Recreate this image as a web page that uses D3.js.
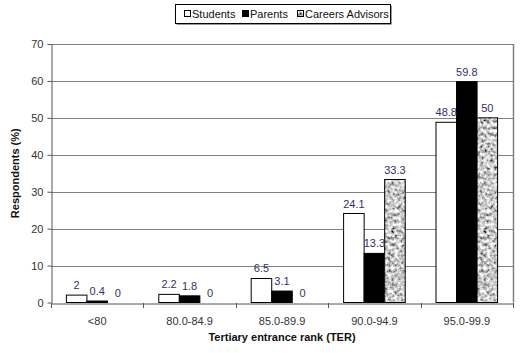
<!DOCTYPE html>
<html>
<head>
<meta charset="utf-8">
<script src="https://cdn.jsdelivr.net/npm/d3@7"></script>
<style>
  body { margin: 0; background: #fff; }
  svg { font-family: Arial, "Liberation Sans", sans-serif; }
</style>
</head>
<body>
<div id="chart"></div>
<script>
// ------- Data
const categories = ['<80', '80.0-84.9', '85.0-89.9', '90.0-94.9', '95.0-99.9'];
const seriesNames = ['Students', 'Parents', 'Careers Advisors'];
const students = [2, 2.2, 6.5, 24.1, 48.8];
const parents = [0.4, 1.8, 3.1, 13.3, 59.8];
const advisors = [0, 0, 0, 33.3, 50];
const yTicks = [0, 10, 20, 30, 40, 50, 60, 70];

const width = 520, height = 353;
const margin = { top: 44, right: 7, bottom: 51, left: 51 };

const svg = d3.select('#chart').append('svg')
  .attr('width', width).attr('height', height);

// mottled grey texture for the advisors bars
const defs = svg.append('defs');
const f = defs.append('filter').attr('id', 'noise')
  .attr('x', 0).attr('y', 0).attr('width', 1).attr('height', 1);
f.append('feTurbulence').attr('type', 'fractalNoise')
  .attr('baseFrequency', 0.3).attr('numOctaves', 2).attr('seed', 7).attr('result', 't');
f.append('feColorMatrix').attr('in', 't').attr('type', 'matrix')
  .attr('values', '1.9 0 0 0 -0.36  1.9 0 0 0 -0.36  1.9 0 0 0 -0.36  0 0 0 0 1')
  .attr('result', 'g');
f.append('feComposite').attr('in', 'g').attr('in2', 'SourceGraphic').attr('operator', 'in');

const x = d3.scaleBand().domain(categories)
  .range([margin.left, width - margin.right]).paddingInner(0).paddingOuter(0);
const x1 = d3.scaleBand().domain(seriesNames)
  .range([0, x.bandwidth()]).paddingOuter(0.75).paddingInner(0);
const y = d3.scaleLinear().domain([0, 70]).range([height - margin.bottom + 0.5, margin.top]);

// ------- Gridlines + plot border
svg.append('g').selectAll('line').data(yTicks.slice(1)).join('line')
  .attr('x1', margin.left).attr('x2', width - margin.right)
  .attr('y1', d => Math.round(y(d)) + 0.5).attr('y2', d => Math.round(y(d)) + 0.5)
  .attr('stroke', '#808080').attr('stroke-width', 1);
svg.append('line')
  .attr('x1', width - margin.right + 0.5).attr('x2', width - margin.right + 0.5)
  .attr('y1', y(70)).attr('y2', y(0))
  .attr('stroke', '#808080').attr('stroke-width', 1.5);

// ------- Y axis
const yAxis = svg.append('g')
  .attr('transform', `translate(${margin.left + 0.5},0)`)
  .call(d3.axisLeft(y).tickValues(yTicks).tickSize(4).tickPadding(4).tickSizeOuter(0));
yAxis.select('.domain').attr('stroke', '#555');
yAxis.selectAll('.tick line').attr('stroke', '#555');
yAxis.selectAll('.tick text').attr('font-size', 11).attr('fill', '#333');

// ------- Bars
const fills = { 'Students': '#fff', 'Parents': '#000', 'Careers Advisors': '#aaa' };
const rows = categories.map((c, i) => ({ c, vals: [students[i], parents[i], advisors[i]] }));

const groups = svg.append('g').selectAll('g').data(rows).join('g')
  .attr('transform', d => `translate(${x(d.c)},0)`);

groups.selectAll('rect').data(d => d.vals.map((v, k) => ({ s: seriesNames[k], v })))
  .join('rect')
  .attr('x', d => x1(d.s))
  .attr('y', d => y(d.v))
  .attr('width', x1.bandwidth())
  .attr('height', d => y(0) - y(d.v))
  .attr('fill', d => fills[d.s])
  .attr('filter', d => d.s === 'Careers Advisors' ? 'url(#noise)' : null)
  .attr('stroke', '#000').attr('stroke-width', 1);

// outline over the textured bars
groups.selectAll('rect.ol').data(d => d.vals.map((v, k) => ({ s: seriesNames[k], v })).filter(e => e.s === 'Careers Advisors' && e.v > 0))
  .join('rect').attr('class', 'ol')
  .attr('x', d => x1(d.s)).attr('y', d => y(d.v))
  .attr('width', x1.bandwidth()).attr('height', d => y(0) - y(d.v))
  .attr('fill', 'none').attr('stroke', '#000').attr('stroke-width', 1);

groups.selectAll('text').data(d => d.vals.map((v, k) => ({ s: seriesNames[k], v })))
  .join('text')
  .attr('x', d => x1(d.s) + x1.bandwidth() / 2)
  .attr('y', d => y(d.v) - 6)
  .attr('text-anchor', 'middle')
  .attr('font-size', 11)
  .attr('fill', '#33306b')
  .text(d => d.v);

// ------- X axis
const xAxis = svg.append('g')
  .attr('transform', `translate(0,${Math.round(y(0)) + 0.5})`)
  .call(d3.axisBottom(x).tickSize(0).tickPadding(14));
xAxis.select('.domain').attr('stroke', '#555');
xAxis.selectAll('.tick text').attr('font-size', 11).attr('fill', '#333');
svg.append('g').selectAll('line').data(d3.range(categories.length + 1)).join('line')
  .attr('x1', i => Math.round(margin.left + i * x.bandwidth()) + 0.5)
  .attr('x2', i => Math.round(margin.left + i * x.bandwidth()) + 0.5)
  .attr('y1', Math.round(y(0))).attr('y2', Math.round(y(0)) + 5)
  .attr('stroke', '#555');

// ------- Axis titles
svg.append('text')
  .attr('x', (margin.left + width - margin.right) / 2).attr('y', 341)
  .attr('text-anchor', 'middle').attr('font-size', 11).attr('font-weight', 700)
  .attr('fill', '#111').text('Tertiary entrance rank (TER)');
svg.append('text')
  .attr('transform', `translate(19,${(y(0) + y(70)) / 2}) rotate(-90)`)
  .attr('text-anchor', 'middle').attr('font-size', 11).attr('font-weight', 700)
  .attr('fill', '#111').text('Respondents (%)');

// ------- Legend
const lg = svg.append('g');
lg.append('rect').attr('x', 176.5).attr('y', 5.5).attr('width', 215).attr('height', 19).attr('fill', '#333');
lg.append('rect').attr('x', 175.5).attr('y', 4.5).attr('width', 215).attr('height', 19)
  .attr('fill', '#fff').attr('stroke', '#000');
const legendX = [184, 242, 297];
seriesNames.forEach((s, i) => {
  lg.append('rect').attr('x', legendX[i] + 0.5).attr('y', 10.5).attr('width', 6).attr('height', 6)
    .attr('fill', fills[s]).attr('stroke', '#000')
    .attr('filter', s === 'Careers Advisors' ? 'url(#noise)' : null);
  if (s === 'Careers Advisors') {
    lg.append('rect').attr('x', legendX[i] + 0.5).attr('y', 10.5).attr('width', 6).attr('height', 6)
      .attr('fill', 'none').attr('stroke', '#000');
  }
  lg.append('text').attr('x', legendX[i] + 8).attr('y', 18)
    .attr('font-size', 11).attr('fill', '#111').text(s);
});
</script>
</body>
</html>
